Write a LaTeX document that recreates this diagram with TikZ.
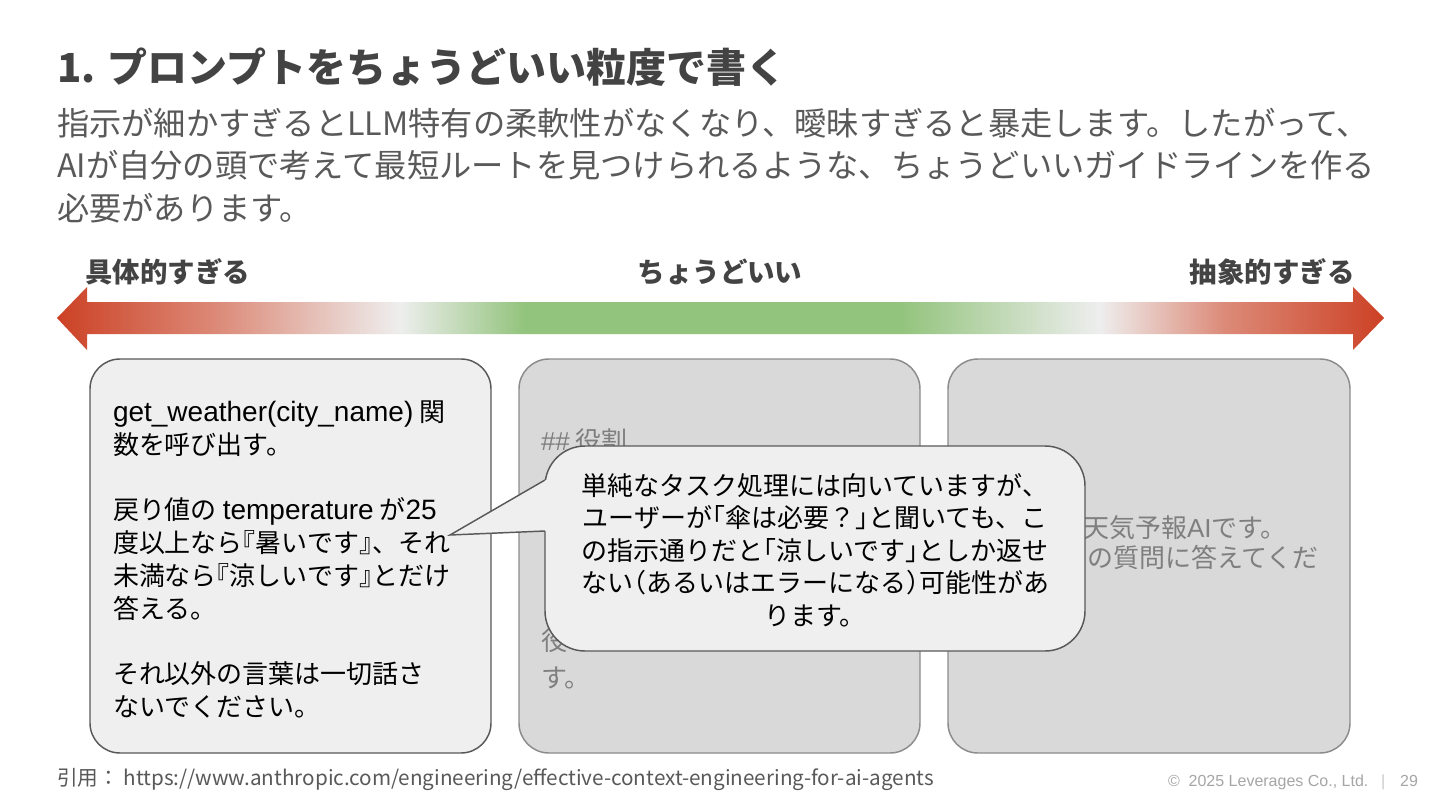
\documentclass[tikz,border=0pt]{standalone}
\usepackage{fontspec}
\setmainfont{Noto Sans CJK JP}
\newfontfamily\lat{Liberation Sans}
\newcommand\LB[1]{\kern-0.5em#1}
\newcommand\RB[1]{#1\kern-0.5em}
\newcommand\latb[1]{{\lat\fontsize{21}{24}\selectfont #1}}
\definecolor{titlec}{HTML}{434343}
\definecolor{subc}{HTML}{595959}
\definecolor{redA}{HTML}{CC4125}
\definecolor{redB}{HTML}{DC8A78}
\definecolor{grayA}{HTML}{EEEEEE}
\definecolor{greenA}{HTML}{93C47D}
\definecolor{cardlight}{HTML}{EFEFEF}
\definecolor{carddark}{HTML}{D9D9D9}
\definecolor{borderdark}{HTML}{595959}
\definecolor{bordermid}{HTML}{8C8C8C}
\definecolor{hidtext}{HTML}{7F7F7F}
\definecolor{footc}{HTML}{595959}
\definecolor{copyc}{HTML}{A6A6A6}
\pgfdeclarehorizontalshading{barshade}{100bp}{color(0bp)=(redA); color(25bp)=(redA); color(31bp)=(redB); color(37.9bp)=(grayA); color(42.6bp)=(greenA); color(56.8bp)=(greenA); color(64.3bp)=(grayA); color(69bp)=(redB); color(75bp)=(redA); color(100bp)=(redA)}
\begin{document}
\begin{tikzpicture}[x=0.75pt,y=-0.75pt,
  txt/.style={inner sep=0pt, outer sep=0pt, anchor=base west},
  card/.style={rounded corners=22.5pt, line width=1.1pt, minimum width=300.75pt, minimum height=295.5pt, inner sep=0pt},
  body/.style={font=\fontsize{19.5}{24}\selectfont, text=black},
  hid/.style={font=\fontsize{19.5}{24}\selectfont, text=hidtext},
  sub/.style={font=\fontsize{24.2}{30}\selectfont, text=subc},
  lbl/.style={font=\fontsize{20.6}{24}\selectfont\bfseries, text=titlec, inner sep=0pt},
  callbox/.style={rounded corners=30pt, line width=1.1pt, draw=borderdark, fill=cardlight, minimum width=405pt, minimum height=153.75pt, inner sep=0pt},
  ctext/.style={font=\fontsize{19.5}{24}\selectfont, text=black, inner sep=0pt, anchor=base}
]
\useasboundingbox[fill=white] (0,0) rectangle (1440,810);

% title
\node[txt, font=\fontsize{30}{36}\selectfont\bfseries, text=titlec] (title) at (57,82) {1. プロンプトをちょうどいい粒度で書く};
\node[txt, sub] (s1) at (57,135) {指示が細かすぎるとLLM特有の柔軟性がなくなり、曖昧すぎると暴走します。したがって、};
\node[txt, sub] (s2) at (57,177) {AIが自分の頭で考えて最短ルートを見つけられるような、ちょうどいいガイドラインを作る};
\node[txt, sub] (s3) at (57,220) {必要があります。};

% labels
\node[lbl, anchor=base west] (lleft) at (85,282) {具体的すぎる};
\node[lbl, anchor=base] (lmid) at (720,282) {ちょうどいい};
\node[lbl, anchor=base east] (lright) at (1355,282) {抽象的すぎる};

% gradient double arrow
\path[shading=barshade] (57,318) -- (87,287) -- (87,302) -- (1353,302) -- (1353,287) -- (1384,318) -- (1353,350) -- (1353,334) -- (87,334) -- (87,350) -- cycle;

% cards
\node[card, draw=borderdark, fill=cardlight] (c1) at (290.5,556) {};
\node[card, draw=bordermid, fill=carddark] (c2) at (719.5,556) {};
\node[card, draw=bordermid, fill=carddark, minimum width=301.5pt] (c3) at (1149,556) {};

% card 1 text
\node[txt, body] (b1) at (113,421) {\latb{get\_weather(city\_name)} 関};
\node[txt, body] (b2) at (113,454) {数を呼び出す。};
\node[txt, body] (b3) at (113,519) {戻り値の\ \latb{temperature} が\latb{25}};
\node[txt, body] (b4) at (113,552) {度以上なら\LB{『}暑いです\RB{』}、それ};
\node[txt, body] (b5) at (113,585) {未満なら\LB{『}涼しいです\RB{』}とだけ};
\node[txt, body] (b6) at (113,618) {答える。};
\node[txt, body] (b7) at (113,683) {それ以外の言葉は一切話さ};
\node[txt, body] (b8) at (113,716) {ないでください。};

% card 2 text (mostly hidden)
\node[txt, hid] (m1) at (541,450) {{\lat \#\#} 役割};
\node[txt, hid] (m2) at (541,650) {役};
\node[txt, hid] (m3) at (541,687) {す。};

% card 3 text (partly hidden)
\node[txt, hid] (r1) at (1083,537) {天気予報{\lat AI}です。};
\node[txt, hid] (r2) at (1087,567) {の質問に答えてくだ};

% callout
\node[callbox] (call) at (815,548.5) {};
\coordinate (tip) at (450,535);
\coordinate (ta) at (545,480);
\coordinate (tb) at (545,531);
\fill[cardlight] (tip) -- (ta) -- (553,480) -- (553,531) -- (tb) -- cycle;
\draw[borderdark, line width=1.1pt, line join=miter] (ta) -- (tip) -- (tb);
\node[ctext] (k1) at (815,495) {単純なタスク処理には向いていますが、};
\node[ctext] (k2) at (815,527) {ユーザーが\LB{「}傘は必要？\RB{」}と聞いても、こ};
\node[ctext] (k3) at (815,560) {の指示通りだと\LB{「}涼しいです\RB{」}としか返せ};
\node[ctext] (k4) at (815,592) {ない\LB{（}あるいはエラーになる\RB{）}可能性があ};
\node[ctext] (k5) at (815,625) {ります。};

% footer
\node[txt, font=\fontsize{15.5}{18}\selectfont, text=footc] (cite) at (57,785) {引用： https://www.anthropic.com/engineering/effective-context-engineering-for-ai-agents};
\node[txt, font=\lat\fontsize{12}{14}\selectfont, text=copyc] (copy) at (1168,786) {©\ \ 2025 Leverages Co., Ltd.};
\node[txt, font=\lat\fontsize{12}{14}\selectfont, text=copyc!60] (sep) at (1381,786) {|};
\node[txt, font=\lat\fontsize{12}{14}\selectfont, text=copyc, anchor=base east] (page) at (1418,786) {29};
\end{tikzpicture}
\end{document}
